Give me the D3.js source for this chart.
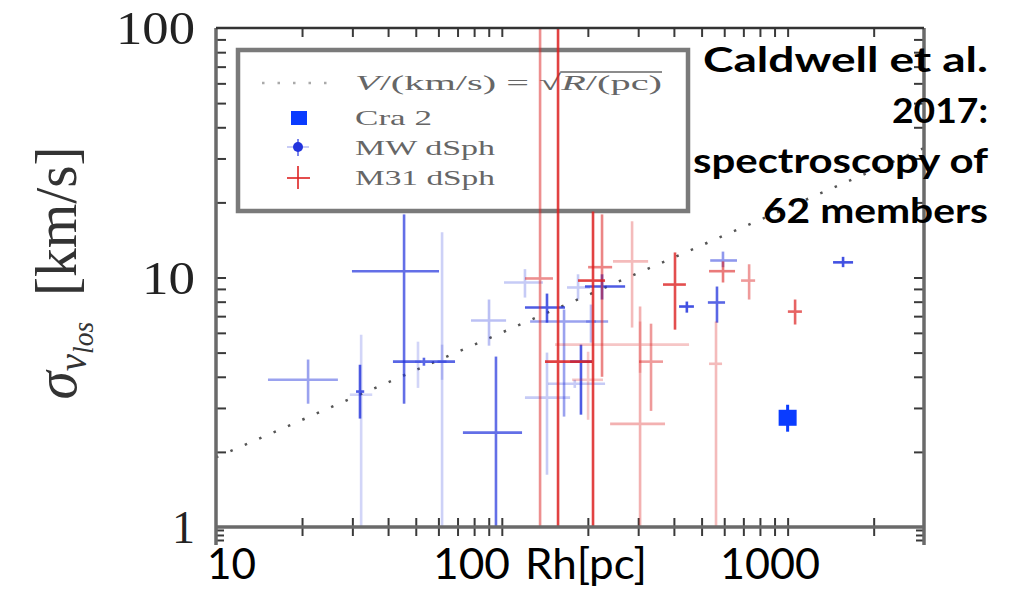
<!DOCTYPE html>
<html><head><meta charset="utf-8">
<script src="https://cdn.jsdelivr.net/npm/d3@7"></script>
<style>body{margin:0;background:#fff}svg{display:block}</style>
</head><body>
<svg id="c" width="1012" height="589"></svg>
<script>
// ---------------- data ----------------
// MW dSph (blue): half-light radius R [pc], dispersion V [km/s], error ranges, opacity weight
const mwR    = [21.0, 31.9, 32.2, 45.5, 53.4, 50.9, 61.8, 61.8, 90.2, 95.4, 120.5, 143.9, 165.1, 184.8, 224.2, 205.1, 189.2, 180, 143.9, 444, 566, 594, 1563];
const mwV    = [3.89, 3.49, 3.39, 10.6, 4.60, 4.60, 4.60, 4.60, 6.72, 2.39, 9.55, 7.58, 6.66, 9.12, 9.20, 6.66, 4.60, 3.75, 3.30, 7.65, 7.94, 11.7, 11.5];
const mwRlo  = [15.2, 30.9, 29.4, 29.9, 41.6, 49.7, 59.8, 59.3, 78.0, 73.1, 101.8, 120.5, 125.6, 169.1, 195.4, 197.1, 173.3, 145.1, 120.5, 417, 526, 536, 1442];
const mwRhi  = [26.7, 33.0, 35.2, 60.3, 68.6, 52.1, 63.8, 64.3, 103.5, 117.7, 139.3, 166.4, 235.5, 203.6, 270.0, 213.6, 206.8, 229.7, 173.3, 470, 604, 665, 1694];
const mwVlo  = [3.12, 2.72, 0.5, 3.12, 4.43, 3.61, 0.5, 3.89, 5.33, 0.5, 8.31, 6.59, 2.77, 8.16, 8.16, 5.48, 2.82, 3.61, 1.62, 7.23, 6.59, 11.0, 11.0];
const mwVhi  = [4.69, 4.47, 5.90, 17.9, 4.77, 5.53, 15.2, 5.38, 8.16, 4.82, 10.8, 8.62, 7.44, 10.3, 10.3, 7.79, 5.38, 3.89, 5.00, 8.01, 9.20, 12.7, 12.1];
const mwWeight = [0.45, 0.8, 0.2, 0.7, 0.75, 0.2, 0.22, 0.2, 0.3, 0.7, 0.25, 0.8, 0.45, 0.25, 0.8, 0.3, 0.8, 0.25, 0.25, 0.85, 0.75, 0.5, 0.85];

// M31 dSph (red)
const m31R   = [136.1, 157.3, 208.5, 224.2, 200.4, 285.6, 304.6, 332.7, 304.6, 403.6, 594.2, 733.3, 1062, 561.6];
const m31V   = [9.91, 4.60, 9.72, 11.0, 3.89, 11.6, 2.59, 4.60, 5.38, 9.37, 10.6, 9.72, 7.30, 4.51];
const m31Rlo = [120.5, 141.6, 184.8, 200.4, 176.2, 244.9, 239.3, 302.0, 153.5, 366.4, 530.9, 687.1, 1002, 530.9];
const m31Rhi = [151.0, 206.8, 229.7, 243.2, 226.0, 325.0, 372.4, 366.4, 451.9, 440.6, 654.6, 769.6, 1122, 589.5];
const m31Vlo = [0.5, 0.5, 0.5, 4.00, 2.69, 6.30, 0.5, 2.92, 4.15, 6.18, 9.55, 8.16, 6.48, 0.5];
const m31Vhi = [150, 150, 18.4, 17.9, 5.04, 16.8, 7.65, 6.53, 6.66, 12.6, 11.6, 11.3, 8.16, 6.66];
const m31Weight = [0.5, 0.85, 0.85, 0.55, 0.25, 0.3, 0.35, 0.45, 0.25, 0.8, 0.6, 0.45, 0.7, 0.3];

// Cra 2
const craR = [1000];
const craV = [2.74];
const craVlo = [2.41];
const craVhi = [3.09];

// reference relation (dotted line) endpoints
const lineR = [10, 3000];
const lineV = [1.9, 33];

// axes
const xDomain = [10, 3000];
const yDomain = [1, 100];
const xMinorTicks = [20,30,40,50,60,70,80,90,200,300,400,500,600,700,800,900,2000];
const xMajorTicks = [100, 1000];
const yMinorTicks = [2,3,4,5,6,7,8,9,20,30,40,50,60,70,80,90];
const yMajorTicks = [10];
const yBelowTicks = [0.973, 0.929, 0.887];
const yTickLabels = [100, 10, 1];
const xAxisTexts = ["10", "100", "Rh[pc]", "1000"];
const legendLabels = ["Cra 2", "MW dSph", "M31 dSph"];
const noteLines = ["Caldwell et al.", "2017:", "spectroscopy of", "62 members"];

// ---------------- drawing ----------------
const svg = d3.select('#c');
const L = 216, R = 924, T = 28, B = 527;
const x = d3.scaleLog().domain(xDomain).range([L, R]);
const y = d3.scaleLog().domain(yDomain).range([B, T]);

const BLUE = '#2233dd', RED = '#dd2222', CRA = '#0a3cff';

// ticks via d3 axes
function styleAxis(g){ g.select('.domain').remove(); g.selectAll('line').attr('stroke','#3a3a3a').attr('stroke-width',2); }
const allX = xMinorTicks.concat(xMajorTicks);
svg.append('g').attr('transform',`translate(0,${B})`).call(d3.axisBottom(x).tickValues(allX).tickSize(9).tickFormat('')).call(styleAxis);
svg.append('g').attr('transform',`translate(0,${B})`).call(d3.axisTop(x).tickValues(allX).tickSize(9).tickFormat('')).call(styleAxis);
svg.append('g').attr('transform',`translate(0,${T})`).call(d3.axisBottom(x).tickValues(allX).tickSize(9).tickFormat('')).call(styleAxis);
const allY = yMinorTicks.concat(yMajorTicks);
svg.append('g').attr('transform',`translate(${L},0)`).call(d3.axisRight(y).tickValues(allY).tickSize(10).tickFormat('')).call(styleAxis);
svg.append('g').attr('transform',`translate(${R},0)`).call(d3.axisLeft(y).tickValues(allY).tickSize(10).tickFormat('')).call(styleAxis);
svg.append('g').attr('transform',`translate(${L},0)`).call(d3.axisRight(y).tickValues(yBelowTicks).tickSize(8).tickFormat('')).call(styleAxis);
svg.append('g').attr('transform',`translate(${R},0)`).call(d3.axisLeft(y).tickValues(yBelowTicks).tickSize(8).tickFormat('')).call(styleAxis);

// y tick labels
const yl = svg.append('g').attr('transform',`translate(${L},0)`)
  .call(d3.axisLeft(y).tickValues(yTickLabels).tickSize(0).tickPadding(21).tickFormat(d3.format('d')));
yl.select('.domain').remove();
yl.selectAll('text').attr('font-family','"Liberation Serif","DejaVu Serif",serif').attr('font-size',46)
  .attr('fill','#222').attr('dy','0.34em')
  .each(function(d){ if(d>=10){ d3.select(this).attr('textLength', d===100?79:53).attr('lengthAdjust','spacingAndGlyphs'); } });

// legend (behind data)
const lg = svg.append('g');
lg.append('rect').attr('x',238).attr('y',50).attr('width',450).attr('height',161)
  .attr('fill','#fff').attr('stroke','#7a7a7a').attr('stroke-width',4.5);
lg.append('line').attr('x1',262).attr('x2',336).attr('y1',83).attr('y2',83)
  .attr('stroke','#aaa').attr('stroke-width',2.5).attr('stroke-dasharray','2.5,13');
const ff = '"Liberation Serif","DejaVu Serif",serif';
const ft = lg.append('text').attr('x',355).attr('y',90).attr('font-family',ff).attr('font-size',22)
  .attr('fill','#666').attr('textLength',307).attr('lengthAdjust','spacingAndGlyphs');
ft.append('tspan').attr('font-style','italic').text('V');
ft.append('tspan').text('/(km/s) = \u221A');
ft.append('tspan').attr('font-style','italic').text('R');
ft.append('tspan').text('/(pc)');
lg.append('rect').attr('x',291).attr('y',111).attr('width',16).attr('height',14).attr('fill',CRA);
lg.append('line').attr('x1',298).attr('x2',298).attr('y1',139).attr('y2',156).attr('stroke',BLUE).attr('stroke-opacity',0.6).attr('stroke-width',2);
lg.append('line').attr('x1',287).attr('x2',309).attr('y1',147).attr('y2',147).attr('stroke',BLUE).attr('stroke-opacity',0.25).attr('stroke-width',2);
lg.append('circle').attr('cx',298).attr('cy',147).attr('r',5).attr('fill',BLUE);
lg.append('line').attr('x1',287).attr('x2',310).attr('y1',178).attr('y2',178).attr('stroke',RED).attr('stroke-opacity',0.8).attr('stroke-width',2);
lg.append('line').attr('x1',298).attr('x2',298).attr('y1',166).attr('y2',189).attr('stroke',RED).attr('stroke-opacity',0.8).attr('stroke-width',2);
const legY = [124.5, 155, 185];
const legW = [77, 140, 140];
legendLabels.forEach((t,i)=>{
  lg.append('text').attr('x',355).attr('y',legY[i]).attr('font-family',ff).attr('font-size',21)
    .attr('fill','#666').attr('textLength',legW[i]).attr('lengthAdjust','spacingAndGlyphs').text(t);
});

// clip
svg.append('clipPath').attr('id','pc').append('rect').attr('x',L).attr('y',T).attr('width',R-L).attr('height',B-T);
const plot = svg.append('g').attr('clip-path','url(#pc)');

// dotted relation line
plot.append('path').datum(d3.range(lineR.length))
  .attr('d', d3.line().x(i=>x(lineR[i])).y(i=>y(lineV[i])))
  .attr('fill','none').attr('stroke','#555').attr('stroke-width',2.5).attr('stroke-dasharray','2.5,13.2');

function drawSeries(Rv,V,Rlo,Rhi,Vlo,Vhi,Wt,color){
  const g = plot.append('g');
  const idx = d3.range(Rv.length);
  const gg = g.selectAll('g').data(idx).join('g').attr('opacity',i=>Wt[i]);
  gg.append('line').attr('x1',i=>x(Rlo[i])).attr('x2',i=>x(Rhi[i])).attr('y1',i=>y(V[i])).attr('y2',i=>y(V[i]))
    .attr('stroke',color).attr('stroke-width',2.6);
  gg.append('line').attr('x1',i=>x(Rv[i])).attr('x2',i=>x(Rv[i])).attr('y1',i=>y(Vlo[i])).attr('y2',i=>y(Vhi[i]))
    .attr('stroke',color).attr('stroke-width',2.6);
}
drawSeries(mwR,mwV,mwRlo,mwRhi,mwVlo,mwVhi,mwWeight,BLUE);
drawSeries(m31R,m31V,m31Rlo,m31Rhi,m31Vlo,m31Vhi,m31Weight,RED);

// Cra 2
const cg = plot.append('g');
d3.range(craR.length).forEach(i=>{
  cg.append('line').attr('x1',x(craR[i])).attr('x2',x(craR[i])).attr('y1',y(craVlo[i])).attr('y2',y(craVhi[i]))
    .attr('stroke',CRA).attr('stroke-width',3);
  cg.append('rect').attr('x',x(craR[i])-9).attr('y',y(craV[i])-8).attr('width',18).attr('height',16).attr('fill',CRA);
});

// frame
const fr = svg.append('g').attr('stroke','#6a6a6a').attr('stroke-width',3.5).attr('fill','none');
fr.append('line').attr('x1',L).attr('x2',L).attr('y1',T).attr('y2',y(0.847));
fr.append('line').attr('x1',R).attr('x2',R).attr('y1',T).attr('y2',y(0.847));
fr.append('line').attr('x1',L).attr('x2',R).attr('y1',B).attr('y2',B);
fr.append('line').attr('x1',L).attr('x2',R).attr('y1',T).attr('y2',T).attr('stroke','#333').attr('stroke-width',2.5);

// overbar of square root in legend formula
(function(){
  const node = ft.node();
  const n = node.getNumberOfChars();
  const full = node.textContent;
  const k = full.indexOf('\u221A');
  const ex = node.getExtentOfChar(k);
  const endX = node.getEndPositionOfChar(n-1).x;
  lg.append('line').attr('x1',ex.x+ex.width-1).attr('x2',endX).attr('y1',ex.y+2).attr('y2',ex.y+2)
    .attr('stroke','#666').attr('stroke-width',1.5);
})();

// y axis title
const yt = svg.append('text').attr('transform','translate(76,273) scale(1.2,1) rotate(-90)')
  .attr('text-anchor','middle').attr('font-family',ff).attr('font-size',50).attr('fill','#333')
  .attr('textLength',253).attr('lengthAdjust','spacingAndGlyphs');
yt.append('tspan').attr('font-style','italic').text('\u03C3');
yt.append('tspan').attr('font-style','italic').attr('font-size',34).attr('dy',8).text('v');
yt.append('tspan').attr('font-style','italic').attr('font-size',24).attr('dy',6).text('los');
yt.append('tspan').attr('font-size',50).attr('dy',-14).text('\u2009 [km/s]');

// x axis texts (overlaid)
const xtPos = [207, 433, 525, 720];
const xtW = [49, 77, 122, 100];
xAxisTexts.forEach((t,i)=>{
  svg.append('text').attr('x',xtPos[i]).attr('y',579).attr('font-family','Lato,"Open Sans",sans-serif')
    .attr('font-size',42).attr('fill','#000').attr('textLength',xtW[i]).attr('lengthAdjust','spacingAndGlyphs').text(t);
});

// annotation
const noteY = [72, 123, 173, 223];
const noteW = [285, 96, 295, 225];
noteLines.forEach((t,i)=>{
  svg.append('text').attr('x',988-noteW[i]).attr('y',noteY[i]).attr('font-family','Lato,"DejaVu Sans",sans-serif')
    .attr('font-weight',700).attr('font-size',35).attr('fill','#000')
    .attr('textLength',noteW[i]).attr('lengthAdjust','spacingAndGlyphs').text(t);
});
</script>
</body></html>
